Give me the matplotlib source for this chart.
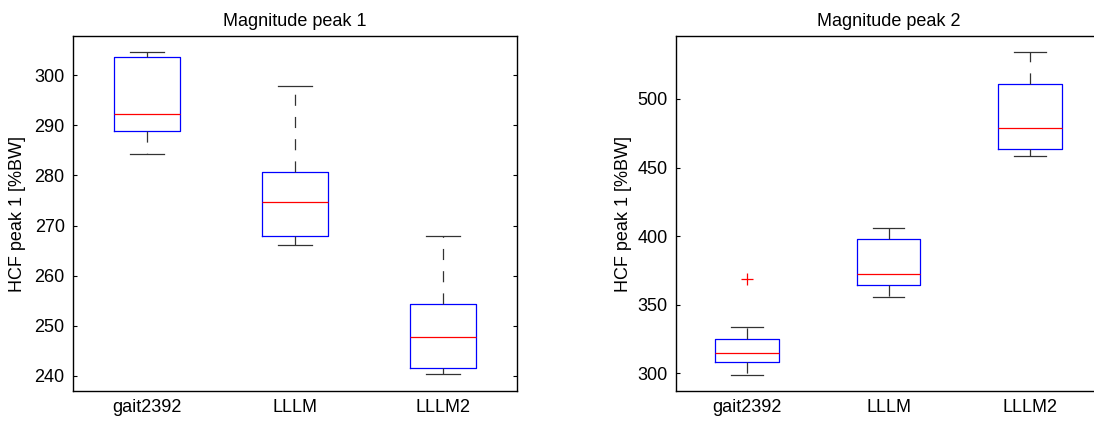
import matplotlib
matplotlib.use("Agg")
import matplotlib.pyplot as plt

plt.rcParams['font.family'] = ['Liberation Sans', 'DejaVu Sans']
plt.rcParams['font.size'] = 13
plt.rcParams['lines.scale_dashes'] = False

labels = ['gait2392', 'LLLM', 'LLLM2']

# Magnitude peak 1
p1_lo = [284.2, 266.1, 240.3]
p1_q1 = [288.8, 268.0, 241.5]
p1_med = [292.3, 274.7, 247.8]
p1_q3 = [303.6, 280.7, 254.3]
p1_hi = [304.7, 297.9, 267.9]
p1_fliers = [[], [], []]

# Magnitude peak 2
p2_lo = [299.0, 355.9, 458.4]
p2_q1 = [308.2, 364.2, 463.3]
p2_med = [314.5, 372.7, 478.6]
p2_q3 = [325.2, 398.2, 511.2]
p2_hi = [333.5, 406.2, 534.3]
p2_fliers = [[368.7], [], []]


def make_stats(lo, q1, med, q3, hi, fl):
    stats = []
    for i in range(len(labels)):
        stats.append(dict(label=labels[i], whislo=lo[i], q1=q1[i], med=med[i],
                          q3=q3[i], whishi=hi[i], fliers=fl[i]))
    return stats


def draw(ax, stats, title, ylim, yticks):
    ax.bxp(stats, widths=0.45, showfliers=True,
           boxprops=dict(color='blue', linewidth=0.9),
           medianprops=dict(color='red', linewidth=0.9),
           whiskerprops=dict(color='#333333', linewidth=0.9, linestyle=(0, (8, 8))),
           capprops=dict(color='#333333', linewidth=0.9),
           flierprops=dict(marker='+', markeredgecolor='red', markersize=8,
                           markeredgewidth=0.9, linestyle='none'))
    ax.set_xlim(0.5, 3.5)
    ax.set_ylim(*ylim)
    ax.set_yticks(yticks)
    ax.set_title(title, fontsize=13, pad=7)
    ax.set_ylabel('HCF peak 1 [%BW]')
    ax.tick_params(axis='y', direction='in', length=3, width=0.8, right=True, pad=6)
    ax.tick_params(axis='x', length=0, pad=6)
    for s in ax.spines.values():
        s.set_linewidth(1.0)


fig = plt.figure(figsize=(10.94, 4.23), dpi=100)
ax1 = fig.add_axes([73 / 1094, 32 / 423, 444 / 1094, 355 / 423])
ax2 = fig.add_axes([676 / 1094, 32 / 423, 425 / 1094, 355 / 423])

draw(ax1, make_stats(p1_lo, p1_q1, p1_med, p1_q3, p1_hi, p1_fliers),
     'Magnitude peak 1', (237.0, 307.8), [240, 250, 260, 270, 280, 290, 300])
draw(ax2, make_stats(p2_lo, p2_q1, p2_med, p2_q3, p2_hi, p2_fliers),
     'Magnitude peak 2', (287.1, 545.9), [300, 350, 400, 450, 500])

ax1.yaxis.set_label_coords(-0.106, 0.5)
ax2.yaxis.set_label_coords(-0.104, 0.5)

fig.savefig('out.png', dpi=100)
